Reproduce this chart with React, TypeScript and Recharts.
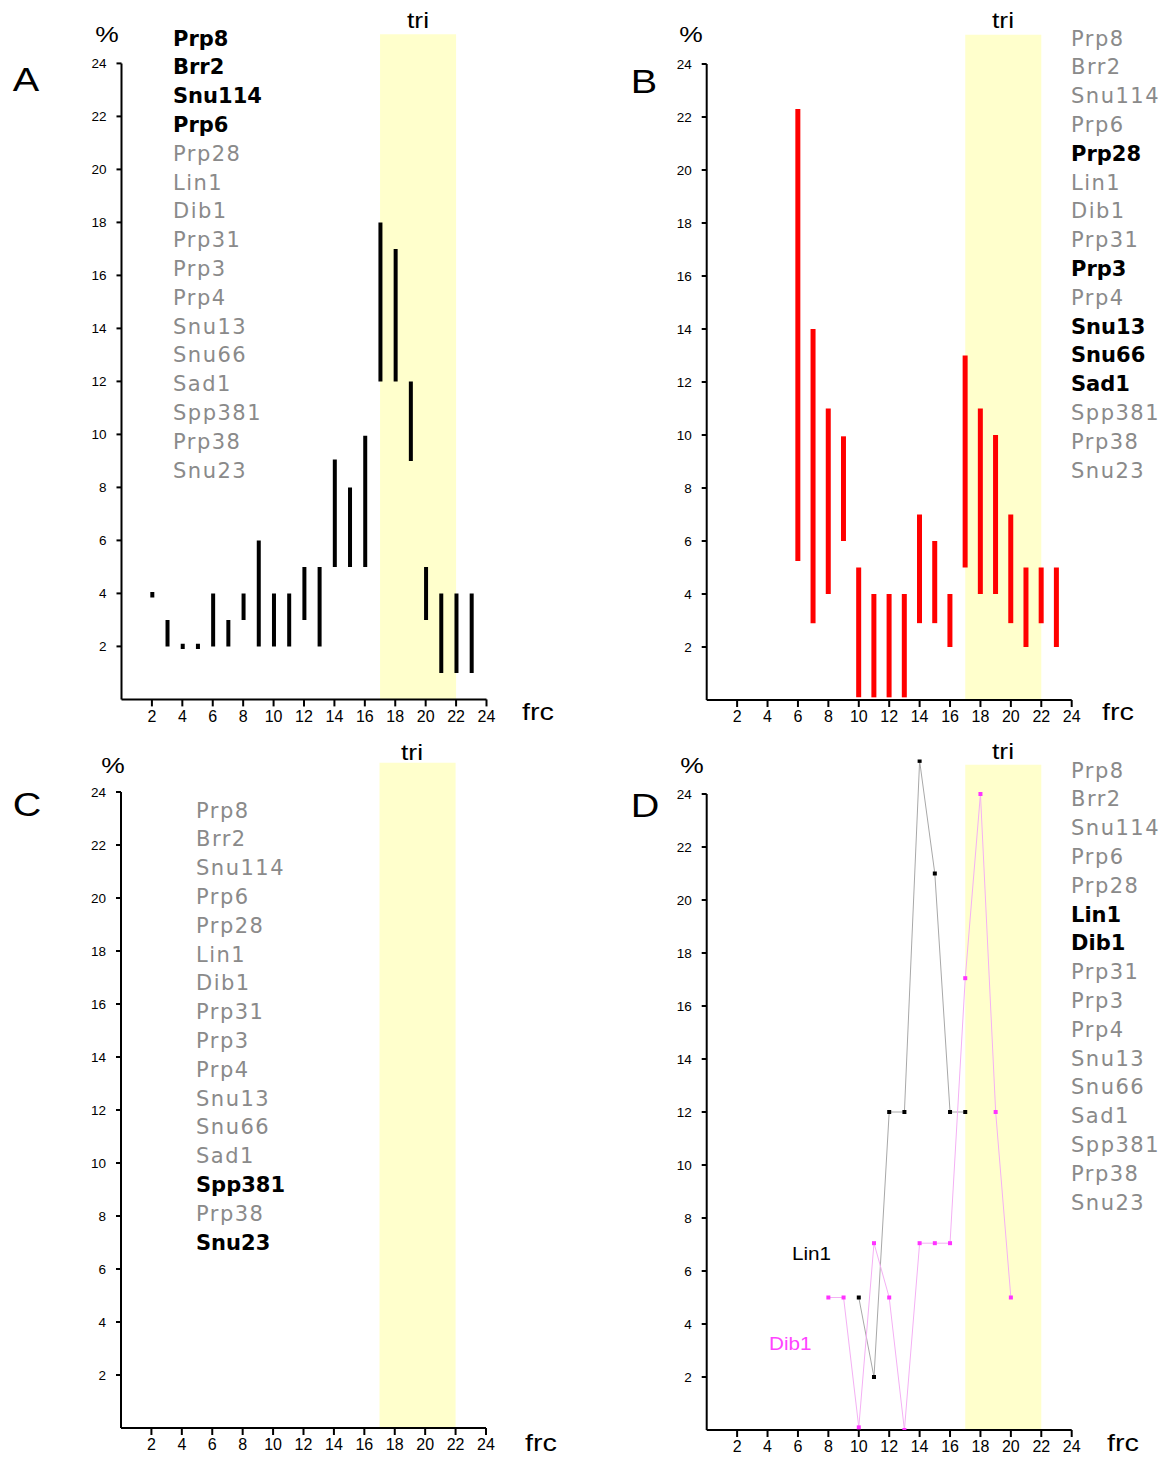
import React from 'react';
import { ComposedChart, Bar, Line, XAxis, YAxis, ReferenceArea, ReferenceLine } from 'recharts';

// protein names listed next to each panel
const proteins = ['Prp8', 'Brr2', 'Snu114', 'Prp6', 'Prp28', 'Lin1', 'Dib1', 'Prp31', 'Prp3', 'Prp4', 'Snu13', 'Snu66', 'Sad1', 'Spp381', 'Prp38', 'Snu23'];
const boldA = ['Prp8', 'Brr2', 'Snu114', 'Prp6'];
const boldB = ['Prp28', 'Prp3', 'Snu13', 'Snu66', 'Sad1'];
const boldC = ['Spp381', 'Snu23'];
const boldD = ['Lin1', 'Dib1'];

const xTicks = [2, 4, 6, 8, 10, 12, 14, 16, 18, 20, 22, 24];
const yTicks = [2, 4, 6, 8, 10, 12, 14, 16, 18, 20, 22, 24];

// panel A: min/max % per fraction
const fracA = [2, 3, 4, 5, 6, 7, 8, 9, 10, 11, 12, 13, 14, 15, 16, 17, 18, 19, 20, 21, 22, 23];
const lowA = [3.85, 2, 1.9, 1.9, 2, 2, 3, 2, 2, 2, 3, 2, 5, 5, 5, 12, 12, 9, 3, 1, 1, 1];
const highA = [4.05, 3, 2.1, 2.1, 4, 3, 4, 6, 4, 4, 5, 5, 9.05, 8, 9.95, 18, 17, 12, 5, 4, 4, 4];

// panel B
const fracB = [6, 7, 8, 9, 10, 11, 12, 13, 14, 15, 16, 17, 18, 19, 20, 21, 22, 23];
const lowB = [5.25, 2.9, 4, 6, 0.1, 0.1, 0.1, 0.1, 2.9, 2.9, 2, 5, 4, 4, 2.9, 2, 2.9, 2];
const highB = [22.3, 14, 11, 9.95, 5, 4, 4, 4, 7, 6, 4, 13, 11, 10, 7, 5, 5, 5];

// panel D
const fracLin1 = [10, 11, 12, 13, 14, 15, 16, 17];
const lin1 = [5, 2, 12, 12, 25.25, 21, 12, 12];
const fracDib1 = [8, 9, 10, 11, 12, 13, 14, 15, 16, 17, 18, 19, 20];
const dib1 = [5, 5, 0.1, 7.05, 5, 0, 7.05, 7.05, 7.05, 17.05, 24, 12, 5];

const dataA = fracA.map((f, i) => ({ frac: f, range: [lowA[i], highA[i]] }));
const dataB = fracB.map((f, i) => ({ frac: f, range: [lowB[i], highB[i]] }));
const dataC = fracA.map((f) => ({ frac: f }));
const dataLin1 = fracLin1.map((f, i) => ({ frac: f, v: lin1[i] }));
const dataDib1 = fracDib1.map((f, i) => ({ frac: f, v: dib1[i] }));

const W = 584;
const H = 730;
const YMAX = 25.3;
const UNIT = 26.5;
const PLOT_W = 365;

const sans = '"Liberation Sans", Arial, sans-serif';

const square = (color: string) => (props: any) => (
  <rect key={`sq-${props.index}`} x={props.cx - 2} y={props.cy - 2} width={4} height={4} fill={color} />
);

interface PanelProps {
  left: number;
  top: number;
  plotLeft: number;
  zeroY: number;
  letter: string;
  letterPos: [number, number];
  pctPos: [number, number];
  triPos: [number, number];
  frcPos: [number, number];
  namesPos: [number, number];
  bold: string[];
  data?: any[];
  children?: React.ReactNode;
}

const Panel = (p: PanelProps) => {
  const xAxisH = 30;
  const yAxisW = 40;
  const margin = {
    top: p.zeroY - YMAX * UNIT,
    bottom: H - p.zeroY - xAxisH,
    left: p.plotLeft - yAxisW,
    right: W - p.plotLeft - PLOT_W,
  };
  const center: React.CSSProperties = { position: 'absolute', transform: 'translate(-50%, -50%) scaleX(1.2)', fontFamily: sans, color: '#000', whiteSpace: 'nowrap' };
  return (
    <div style={{ position: 'absolute', left: p.left, top: p.top, width: W, height: H }}>
      <ComposedChart width={W} height={H} data={p.data} margin={margin}>
        <ReferenceArea x1={17} x2={22} y1={0} y2={25.1} fill="#ffffcc" fillOpacity={1} stroke="none" ifOverflow="visible" />
        <XAxis
          type="number"
          dataKey="frac"
          domain={[0, 24]}
          ticks={xTicks}
          height={xAxisH}
          axisLine={{ stroke: '#000', strokeWidth: 2 }}
          tickLine={{ stroke: '#000', strokeWidth: 2 }}
          tickSize={7}
          tickMargin={4}
          tick={{ fill: '#000', fontSize: 16, fontFamily: sans }}
          allowDataOverflow
        />
        <YAxis
          type="number"
          domain={[0, YMAX]}
          ticks={yTicks}
          width={yAxisW}
          axisLine={false}
          tickLine={{ stroke: '#000', strokeWidth: 2 }}
          tickSize={5}
          tickMargin={10}
          tick={{ fill: '#000', fontSize: 13.5, fontFamily: sans }}
          allowDataOverflow
        />
        <ReferenceLine segment={[{ x: 0, y: 0 }, { x: 0, y: 24 }]} stroke="#000" strokeWidth={2} ifOverflow="visible" />
        {p.children}
      </ComposedChart>
      <div style={{ ...center, left: p.letterPos[0], top: p.letterPos[1], fontSize: 33 }}>{p.letter}</div>
      <div style={{ ...center, left: p.pctPos[0], top: p.pctPos[1], fontSize: 22 }}>%</div>
      <div style={{ ...center, left: p.triPos[0], top: p.triPos[1], fontSize: 22 }}>tri</div>
      <div style={{ ...center, left: p.frcPos[0], top: p.frcPos[1], fontSize: 24 }}>frc</div>
      <div style={{ position: 'absolute', left: p.namesPos[0], top: p.namesPos[1] - 14.4, fontFamily: '"DejaVu Sans", Verdana, sans-serif', fontSize: 21, lineHeight: '28.8px', whiteSpace: 'nowrap' }}>
        {proteins.map((n) => {
          const b = p.bold.includes(n);
          return (
            <div key={n} style={{ color: b ? '#000' : '#8a8a8a', fontWeight: b ? 'bold' : 'normal', letterSpacing: b ? 0 : 1.5 }}>
              {n}
            </div>
          );
        })}
      </div>
    </div>
  );
};

export default function App() {
  return (
    <div style={{ position: 'absolute', left: 0, top: 0, width: 1168, height: 1459, background: '#fff' }}>
      <Panel left={0} top={0} plotLeft={121.5} zeroY={699.4} letter="A" letterPos={[26, 80]} pctPos={[107, 35]} triPos={[418, 21]} frcPos={[538, 712]} namesPos={[173, 39]} bold={boldA} data={dataA}>
        <Bar dataKey="range" fill="#000" barSize={4} isAnimationActive={false} />
      </Panel>
      <Panel left={584} top={0} plotLeft={122.7} zeroY={700} letter="B" letterPos={[60, 82]} pctPos={[107, 35]} triPos={[419, 21]} frcPos={[534, 712]} namesPos={[487, 39]} bold={boldB} data={dataB}>
        <Bar dataKey="range" fill="#ff0000" barSize={5} isAnimationActive={false} />
      </Panel>
      <Panel left={0} top={730} plotLeft={121} zeroY={698} letter="C" letterPos={[27, 75]} pctPos={[113, 36]} triPos={[412, 23]} frcPos={[541, 713]} namesPos={[196, 81]} bold={boldC} data={dataC} />
      <Panel left={584} top={730} plotLeft={122.7} zeroY={700} letter="D" letterPos={[61, 76]} pctPos={[108, 36]} triPos={[419, 22]} frcPos={[539, 713]} namesPos={[487, 41]} bold={boldD}>
        <Line data={dataLin1} dataKey="v" stroke="#a8a8a8" strokeWidth={1} dot={square('#000')} activeDot={false} isAnimationActive={false} />
        <Line data={dataDib1} dataKey="v" stroke="#f4b0f4" strokeWidth={1} dot={square('#ff33ff')} activeDot={false} isAnimationActive={false} />
      </Panel>
      <div style={{ position: 'absolute', left: 584 + 208, top: 730 + 526 - 12, fontFamily: sans, fontSize: 18, color: '#000', transform: 'scaleX(1.15)', transformOrigin: 'left' }}>Lin1</div>
      <div style={{ position: 'absolute', left: 584 + 185, top: 730 + 616 - 12, fontFamily: sans, fontSize: 18, color: '#ff44ff', transform: 'scaleX(1.15)', transformOrigin: 'left' }}>Dib1</div>
    </div>
  );
}
